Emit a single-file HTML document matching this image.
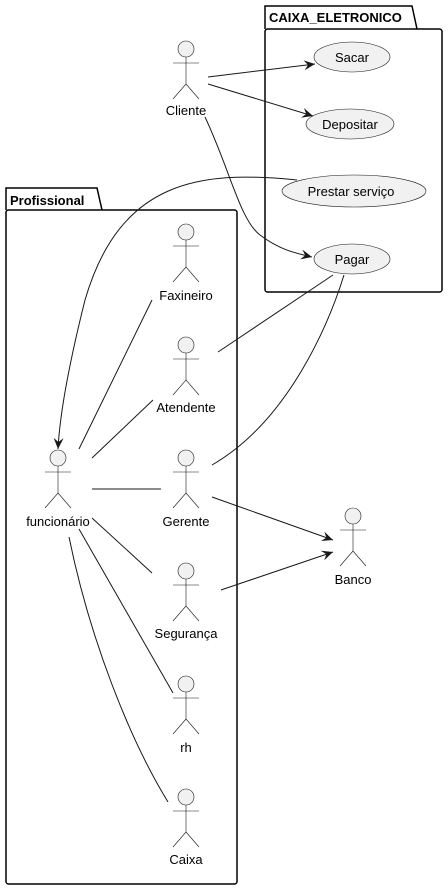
<!DOCTYPE html>
<html><head><style>body{margin:0;background:#fff}svg{display:block}text{font-family:"Liberation Sans",sans-serif;font-size:13px;fill:#000}</style></head>
<body>
<svg width="448" height="889" viewBox="0 0 448 889" xmlns="http://www.w3.org/2000/svg">
<defs>
<marker id="a" markerWidth="12" markerHeight="10" refX="11" refY="5" orient="auto" markerUnits="userSpaceOnUse">
<path d="M0,0 L11,5 L0,10 L4,5 Z" fill="#181818"/></marker>
<g id="act" fill="#f1f1f1" stroke="#181818" stroke-width="0.6">
<circle cx="0" cy="0" r="8"/><path d="M0,8 V35 M-13,14 H13 M-13,50 L0,35 L13,50" fill="none"/></g>
</defs>
<g fill="none" stroke="#000" stroke-width="1.5">
<path d="M265,29 V6 H412 L417,29"/>
<rect x="265" y="29" width="177" height="263" rx="2.5"/>
<path d="M6,210 V188 H97 L102,210"/>
<rect x="6" y="210" width="231" height="674" rx="2.5"/>
</g>
<text x="269" y="22" style="font-weight:bold">CAIXA_ELETRONICO</text>
<text x="10" y="205" style="font-weight:bold">Profissional</text>
<g fill="#f1f1f1" stroke="#181818" stroke-width="0.6">
<ellipse cx="352" cy="57" rx="38" ry="15"/>
<ellipse cx="350" cy="124" rx="44" ry="15"/>
<ellipse cx="354" cy="191" rx="72" ry="16"/>
<ellipse cx="352" cy="259" rx="38" ry="15"/>
</g>
<text x="352" y="62" text-anchor="middle">Sacar</text>
<text x="350" y="129" text-anchor="middle">Depositar</text>
<text x="351" y="196" text-anchor="middle">Prestar serviço</text>
<text x="352" y="264" text-anchor="middle">Pagar</text>
<g fill="none" stroke="#181818" stroke-width="1">
<path d="M208,77 L315,64" marker-end="url(#a)"/>
<path d="M208,84 L313,116" marker-end="url(#a)"/>
<path d="M205,117 C230,170 240,220 260,235 C280,250 295,253 312,257" marker-end="url(#a)"/>
<path d="M297,180 C200,170 120,180 85,300 C70,360 60,410 58,449" marker-end="url(#a)"/>
<path d="M333,275 L218,352"/>
<path d="M344,275 C330,320 290,420 212,465"/>
<path d="M79,449 L152,300"/>
<path d="M92,458 L153,400"/>
<path d="M92,489 L161,489"/>
<path d="M92,518 L152,573"/>
<path d="M79,529 L173,693"/>
<path d="M69,537 C90,640 130,740 168,802"/>
<path d="M212,497 L333,540" marker-end="url(#a)"/>
<path d="M221,590 L333,552" marker-end="url(#a)"/>
</g>
<use href="#act" x="186" y="49"/><text x="186" y="115" text-anchor="middle">Cliente</text>
<use href="#act" x="186" y="232"/><text x="186" y="300" text-anchor="middle">Faxineiro</text>
<use href="#act" x="186" y="345"/><text x="186" y="412" text-anchor="middle">Atendente</text>
<use href="#act" x="58" y="458"/><text x="58" y="526" text-anchor="middle">funcionário</text>
<use href="#act" x="186" y="458"/><text x="186" y="526" text-anchor="middle">Gerente</text>
<use href="#act" x="353" y="516"/><text x="353" y="584" text-anchor="middle">Banco</text>
<use href="#act" x="186" y="571"/><text x="186" y="638" text-anchor="middle">Segurança</text>
<use href="#act" x="186" y="684"/><text x="186" y="752" text-anchor="middle">rh</text>
<use href="#act" x="186" y="797"/><text x="186" y="864" text-anchor="middle">Caixa</text>
</svg>
</body></html>
